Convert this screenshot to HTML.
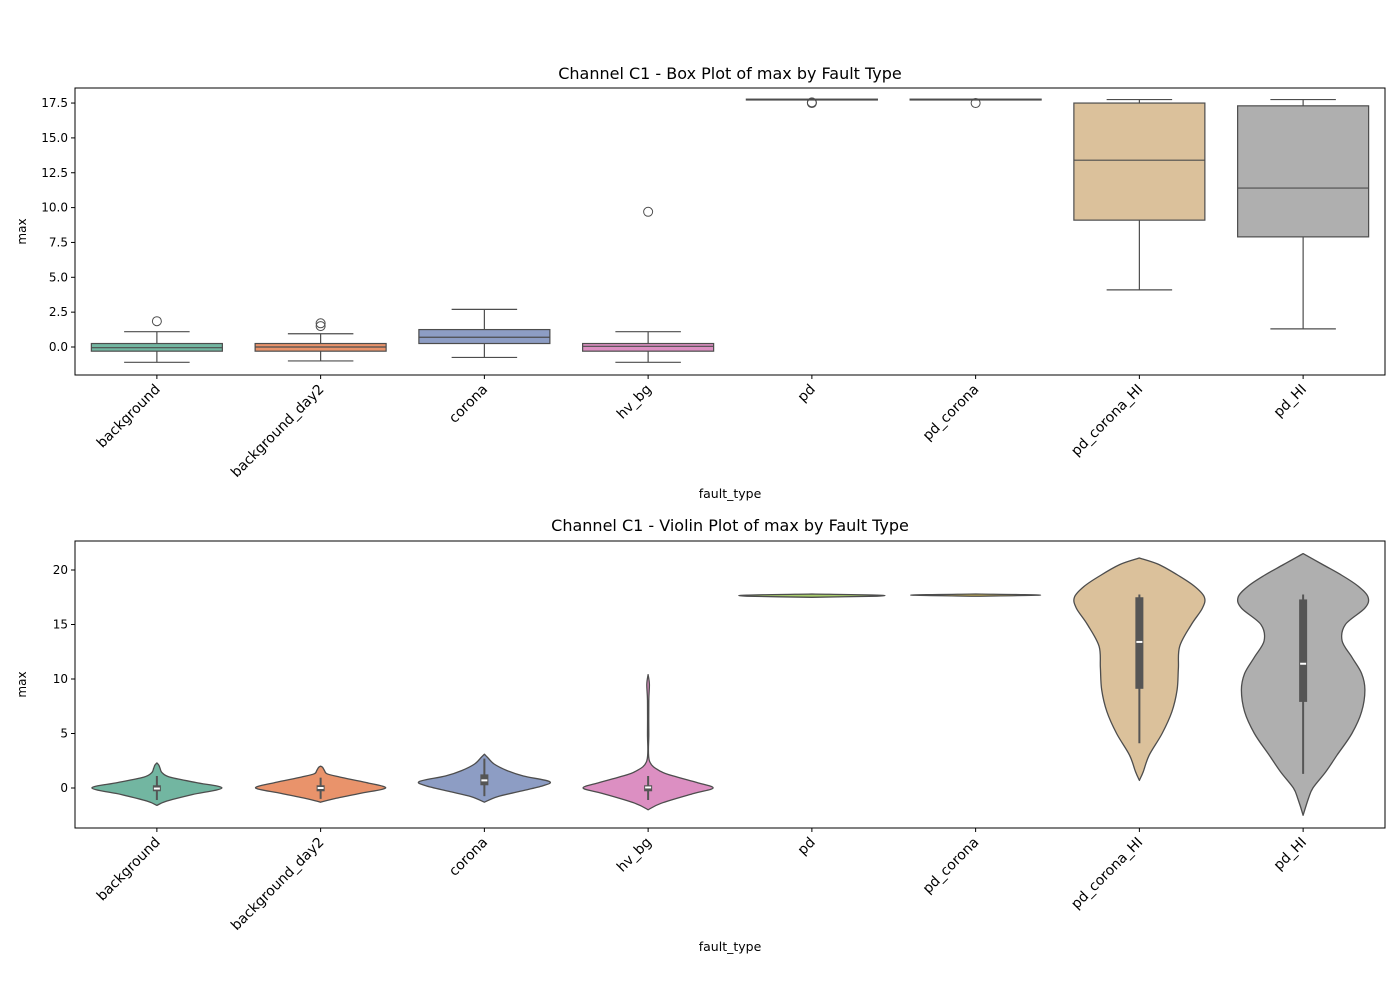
<!DOCTYPE html>
<html><head><meta charset="utf-8"><style>
body{margin:0;background:#fff;font-family:"Liberation Sans","DejaVu Sans",sans-serif}
svg text{font-family:"DejaVu Sans","Liberation Sans",sans-serif;fill:#000}
</style></head><body>
<svg id="s" width="1400" height="1000"></svg>
<script>
const categories=["background","background_day2","corona","hv_bg","pd","pd_corona","pd_corona_HI","pd_HI"];
const colors=["#72b6a1","#e9936b","#8d9dc4","#dc8fc2","#a9cf6b","#e9cd56","#dbc19b","#afafaf"];
const whiskLo=[-1.1,-1.0,-0.75,-1.1,17.75,17.75,4.1,1.3];
const q1=[-0.3,-0.3,0.25,-0.3,17.72,17.72,9.1,7.9];
const med=[-0.05,0.0,0.7,0.05,17.75,17.75,13.4,11.4];
const q3=[0.25,0.25,1.25,0.25,17.78,17.78,17.5,17.3];
const whiskHi=[1.1,0.95,2.7,1.1,17.75,17.75,17.75,17.75];
const outliers=[[1.85],[1.5,1.7],[],[9.7],[17.5,17.55],[17.5],[],[]];
const topTicks=[0,2.5,5,7.5,10,12.5,15,17.5];
const botTicks=[0,5,10,15,20];
const vVals=[
[-1.6,-1.2,-0.6,0,0.5,1,1.4,1.8,2.1,2.3],
[-1.3,-1,-0.5,0,0.5,1,1.3,1.6,1.9,2.0],
[-1.3,-0.8,-0.3,0.2,0.6,1.1,1.6,2.2,2.8,3.1],
[-2,-1.4,-0.5,0,0.5,1,1.5,2.5,5,8,9.5,10.4],
[17.5,17.6,17.7,17.8],
[17.6,17.7,17.8],
[0.7,1.5,3,5,7,9,11,13,15,16.5,17.5,18.5,19.5,20.5,21.1],
[-2.5,-1,0,1.5,3,5,7,9,10.5,12,13.5,15,16.5,17.5,18.5,19.5,20.5,21.5]];
const vDens=[
[0,0.15,0.55,1,0.6,0.2,0.08,0.05,0.03,0],
[0,0.2,0.6,1,0.7,0.3,0.1,0.06,0.03,0],
[0,0.2,0.55,0.9,1,0.6,0.35,0.15,0.05,0],
[0,0.2,0.7,1,0.75,0.45,0.2,0.02,0.01,0.01,0.02,0],
[0,1,1,0],
[0,1,0],
[0,0.06,0.15,0.35,0.5,0.58,0.6,0.62,0.8,0.97,1,0.85,0.6,0.3,0],
[0,0.08,0.15,0.35,0.52,0.75,0.9,0.95,0.9,0.75,0.6,0.65,0.95,1,0.85,0.6,0.3,0]];
const vScale=[65,65,65,65,65,65,65,65];

const S=document.getElementById('s');const NS="http://www.w3.org/2000/svg";
function mk(t,a,p){const e=document.createElementNS(NS,t);for(const k in a)e.setAttribute(k,a[k]);(p||S).appendChild(e);return e;}
const L=75,R=1385,band=(R-L)/categories.length;
const xc=i=>L+band*(i+0.5);
const LC="#4d4d4d";
function smooth(pts){let d='M'+pts[0][0].toFixed(1)+','+pts[0][1].toFixed(1);
  for(let i=0;i<pts.length-1;i++){const p0=pts[Math.max(i-1,0)],p1=pts[i],p2=pts[i+1],p3=pts[Math.min(i+2,pts.length-1)];
    const c1=[p1[0]+(p2[0]-p0[0])/6,p1[1]+(p2[1]-p0[1])/6],c2=[p2[0]-(p3[0]-p1[0])/6,p2[1]-(p3[1]-p1[1])/6];
    d+='C'+c1.map(v=>v.toFixed(1)).join(',')+' '+c2.map(v=>v.toFixed(1)).join(',')+' '+p2[0].toFixed(1)+','+p2[1].toFixed(1);}
  return d;}
function axes(top,bot,ymap,ticks,dec,title,ty,xlabY,name){
  const g=mk('g',{});
  mk('text',{x:730,y:ty,'text-anchor':'middle','font-size':16},g).textContent=title;
  ticks.forEach(v=>{const y=ymap(v);mk('line',{x1:L-4,x2:L,y1:y,y2:y,stroke:'#000'},g);
    const t=mk('text',{x:L-7,y:y+4,'text-anchor':'end','font-size':12},g);t.textContent=v.toFixed(dec);
    });
  categories.forEach((c,i)=>{const x=xc(i);mk('line',{x1:x,x2:x,y1:bot,y2:bot+4,stroke:'#000'},g);
    const t=mk('text',{x:x+4,y:bot+15,'text-anchor':'end','font-size':14,transform:`rotate(-45 ${x+4} ${bot+15})`},g);t.textContent=c;
    });
  const yl=mk('text',{x:0,y:0,'text-anchor':'middle','font-size':12,transform:`translate(${L-49} ${(top+bot)/2}) rotate(-90)`},g);yl.textContent='max';
  
  const xl=mk('text',{x:730,y:xlabY,'text-anchor':'middle','font-size':12.5},g);xl.textContent='fault_type';
  
  return g;
}
const T1=88,B1=375,y1=v=>347-v*13.94;
const g1=axes(T1,B1,y1,topTicks,1,'Channel C1 - Box Plot of max by Fault Type',79,498,'box-plot-panel');
const bw=band*0.8;
categories.forEach((c,i)=>{const x=xc(i);
  const g=mk('g',{},g1);
  mk('line',{x1:x,x2:x,y1:y1(whiskLo[i]),y2:y1(q1[i]),stroke:LC,'stroke-width':1.2},g);
  mk('line',{x1:x,x2:x,y1:y1(q3[i]),y2:y1(whiskHi[i]),stroke:LC,'stroke-width':1.2},g);
  mk('line',{x1:x-bw/4,x2:x+bw/4,y1:y1(whiskLo[i]),y2:y1(whiskLo[i]),stroke:LC,'stroke-width':1.2},g);
  mk('line',{x1:x-bw/4,x2:x+bw/4,y1:y1(whiskHi[i]),y2:y1(whiskHi[i]),stroke:LC,'stroke-width':1.2},g);
  const yt=y1(q3[i]),yb=y1(q1[i]);
  mk('rect',{x:x-bw/2,y:yt,width:bw,height:Math.max(yb-yt,0.5),fill:colors[i],stroke:LC,'stroke-width':1.2},g);
  mk('line',{x1:x-bw/2,x2:x+bw/2,y1:y1(med[i]),y2:y1(med[i]),stroke:LC,'stroke-width':1.2},g);
  outliers[i].forEach(o=>{const c=mk('circle',{cx:x,cy:y1(o),r:4.5,fill:'none',stroke:LC},g);
    });
});
mk('rect',{x:L,y:T1,width:R-L,height:B1-T1,fill:'none',stroke:'#000','stroke-width':1},g1);
const T2=541,B2=828,y2=v=>788-v*10.9;
const g2=axes(T2,B2,y2,botTicks,0,'Channel C1 - Violin Plot of max by Fault Type',531,951,'violin-plot-panel');
categories.forEach((c,i)=>{const x=xc(i);
  const g=mk('g',{},g2);
  const vs=vVals[i],ds=vDens[i];
  const right=vs.map((v,k)=>[x+ds[k]*vScale[i],y2(v)]);
  const left=vs.map((v,k)=>[x-ds[k]*vScale[i],y2(v)]).reverse();
  const d=smooth(right)+smooth(left).replace(/^M[^C]*/,'L'+left[0][0].toFixed(1)+','+left[0][1].toFixed(1))+'Z';
  mk('path',{d:d,fill:colors[i],stroke:LC,'stroke-width':1.3,'stroke-linejoin':'round'},g);
  if(i<4||i>5){
    mk('line',{x1:x,x2:x,y1:y2(whiskLo[i]),y2:y2(whiskHi[i]),stroke:'#555','stroke-width':2},g);
    mk('rect',{x:x-4,y:y2(q3[i]),width:8,height:y2(q1[i])-y2(q3[i]),fill:'#555'},g);
    mk('line',{x1:x-3,x2:x+3,y1:y2(med[i]),y2:y2(med[i]),stroke:'#fff','stroke-width':2},g);
  }
});
mk('rect',{x:L,y:T2,width:R-L,height:B2-T2,fill:'none',stroke:'#000','stroke-width':1},g2);
</script>
</body></html>
